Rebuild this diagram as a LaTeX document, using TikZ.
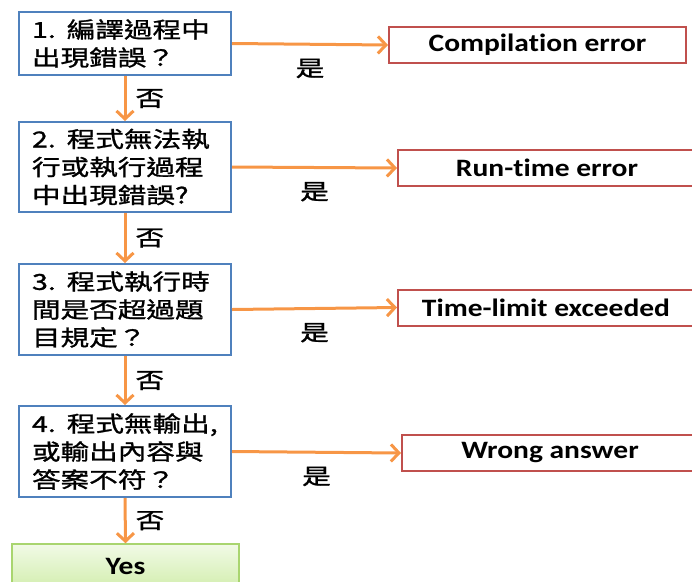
\documentclass[tikz,border=0pt]{standalone}
\usepackage{fontspec}
\setmainfont{Carlito}
\newfontfamily\cjk[FakeStretch=1.3,FakeBold=1.2]{Noto Sans CJK TC}
\newfontfamily\lab[FakeStretch=1.18,Ligatures=NoCommon]{Carlito}
\usetikzlibrary{arrows.meta,positioning}

\definecolor{qblue}{HTML}{4F81BD}
\definecolor{ared}{HTML}{C0504D}
\definecolor{flow}{HTML}{F79646}
\definecolor{okline}{HTML}{A9D56F}
\definecolor{oktop}{HTML}{F1FAE6}
\definecolor{okbot}{HTML}{D3EEAF}

\tikzset{
  question/.style={draw=qblue, line width=2pt, fill=white,
    text width=186pt, inner xsep=13pt, align=left,
    font=\cjk\fontsize{22}{28}\selectfont},
  answer/.style={draw=ared, line width=2pt, fill=white, minimum height=36pt,
    font=\lab\bfseries\fontsize{25}{30}\selectfont},
  okbox/.style={draw=okline, line width=1.5pt, top color=oktop, bottom color=okbot,
    minimum width=227pt, minimum height=44pt, text depth=-4pt,
    font=\lab\bfseries\fontsize{25}{30}\selectfont},
  flowarrow/.style={draw=flow, line width=3pt, -{Straight Barb[length=8pt,width=17pt]}},
  yeslbl/.style={inner sep=0pt, font=\cjk\fontsize{22}{28}\selectfont},
}

\begin{document}
\begin{tikzpicture}[x=1pt, y=-1pt]

\useasboundingbox (0,0) rectangle (692,581);
\clip (0,0) rectangle (692,581); %% right boxes run off the edge

%% questions
\node[question, minimum height=63pt] (q1) at (125,43.5) {1. 編譯過程中\\出現錯誤？};
\node[question, minimum height=90pt] (q2) at (125,167) {2. 程式無法執\\行或執行過程\\中出現錯誤?};
\node[question, minimum height=91pt] (q3) at (125,309.5) {3. 程式執行時\\間是否超過題\\目規定？};
\node[question, minimum height=91pt] (q4) at (125,451.5) {4. 程式無輸出,\\或輸出內容與\\答案不符？};
\node[okbox] (ok) at (125.5,566) {Yes};

%% verdicts
\node[answer, minimum width=297pt] (r1) at (537.5,45) {Compilation error};
\node[answer, minimum width=298pt] (r2) at (547,168) {Run-time error};
\node[answer, minimum width=296pt] (r3) at (546,307.5) {Time-limit exceeded};
\node[answer, minimum width=296pt] (r4) at (550,453) {Wrong answer};

\draw[flowarrow] (q1.east) -- node[yeslbl, midway, below=13pt]{是} (r1.west);
\draw[flowarrow] (q2.east) -- node[yeslbl, midway, below=13pt]{是} (r2.west);
\draw[flowarrow] (q3.east) -- node[yeslbl, midway, below=13pt]{是} (r3.west);
\draw[flowarrow] (q4.east) -- node[yeslbl, midway, below=13pt]{是} (r4.west);

\draw[flowarrow] (q1.south) -- node[yeslbl, midway, right=9pt]{否} (q2.north);
\draw[flowarrow] (q2.south) -- node[yeslbl, midway, right=9pt]{否} (q3.north);
\draw[flowarrow] (q3.south) -- node[yeslbl, midway, right=9pt]{否} (q4.north);
\draw[flowarrow] (q4.south) -- node[yeslbl, midway, right=9pt]{否} (ok.north);

\end{tikzpicture}
\end{document}
